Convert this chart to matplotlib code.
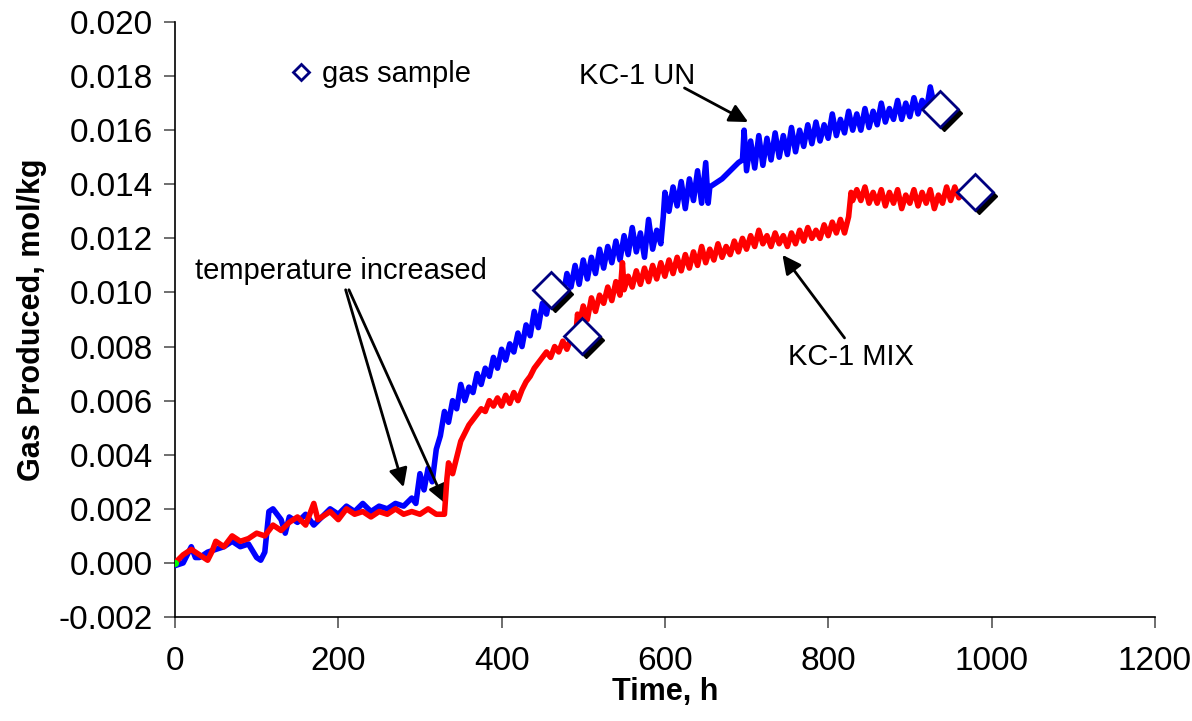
import numpy as np
import matplotlib
matplotlib.use("Agg")
import matplotlib.pyplot as plt
import matplotlib.transforms as mtransforms
from matplotlib.ticker import FormatStrFormatter, MultipleLocator
from matplotlib.lines import Line2D

plt.rcParams['font.family'] = ['Liberation Sans', 'DejaVu Sans']
plt.rcParams['axes.unicode_minus'] = False

# KC-1 UN (blue)
t_un = [0, 10, 20, 25, 30, 40, 50, 60, 70, 80, 90, 100, 105, 110, 115, 120, 130, 135, 140,
        150, 160, 170, 180, 190, 200, 210, 220, 230, 240, 250, 260, 270, 280, 290, 295,
        300, 305, 310, 315, 320, 325, 330, 335, 340, 345, 350, 355, 360, 365, 370, 375,
        380, 385, 390, 395, 400, 405, 410, 415, 420, 425, 430, 435, 440, 445, 450, 455,
        460, 465, 470, 475, 480, 485, 490, 495, 500, 505, 510, 515, 520, 525, 530, 535,
        540, 545, 550, 555, 560, 565, 570, 575, 580, 585, 590, 595, 598, 600, 605, 610,
        615, 620, 625, 630, 635, 640, 645, 650, 653, 655, 660, 670, 680, 690, 695, 697,
        700, 705, 710, 715, 720, 725, 730, 735, 740, 745, 750, 755, 760, 765, 770, 775,
        780, 785, 790, 795, 800, 805, 810, 815, 820, 825, 830, 835, 840, 845, 850, 855,
        860, 865, 870, 875, 880, 885, 890, 895, 900, 905, 910, 915, 920, 925, 930]
gas_un = [-0.0001, 0.0000, 0.0006, 0.0002, 0.0002, 0.0004, 0.0005, 0.0006, 0.0008, 0.0006,
          0.0007, 0.0002, 0.0001, 0.0004, 0.0019, 0.0020, 0.0016, 0.0011, 0.0017,
          0.0015, 0.0018, 0.0014, 0.0017, 0.0020, 0.0018, 0.0021, 0.0019, 0.0022, 0.0019,
          0.0021, 0.0020, 0.0022, 0.0021, 0.0024, 0.0022,
          0.0033, 0.0027, 0.0035, 0.0030, 0.0042, 0.0047, 0.0056, 0.0052, 0.0060, 0.0057,
          0.0066, 0.0060, 0.0065, 0.0063, 0.0070, 0.0066,
          0.0072, 0.0069, 0.0076, 0.0072, 0.0079, 0.0075, 0.0081, 0.0078, 0.0085, 0.0080,
          0.0088, 0.0084, 0.0093, 0.0087, 0.0096, 0.0092,
          0.0100, 0.0096, 0.0104, 0.0098, 0.0107, 0.0102, 0.0110, 0.0103, 0.0112, 0.0105,
          0.0113, 0.0107, 0.0116, 0.0109, 0.0117, 0.0111,
          0.0119, 0.0112, 0.0121, 0.0114, 0.0124, 0.0115, 0.0122, 0.0113, 0.0127, 0.0116,
          0.0123, 0.0118, 0.0128, 0.0137, 0.0130, 0.0139,
          0.0132, 0.0141, 0.0131, 0.0142, 0.0134, 0.0145, 0.0133, 0.0148, 0.0133, 0.0139,
          0.0140, 0.0142, 0.0145, 0.0148, 0.0149, 0.0160,
          0.0145, 0.0156, 0.0146, 0.0158, 0.0147, 0.0157, 0.0149, 0.0159, 0.0150, 0.0158,
          0.0151, 0.0161, 0.0152, 0.0160, 0.0154, 0.0162,
          0.0155, 0.0163, 0.0156, 0.0162, 0.0157, 0.0166, 0.0158, 0.0164, 0.0159, 0.0167,
          0.0160, 0.0166, 0.0160, 0.0168, 0.0161, 0.0167,
          0.0162, 0.0170, 0.0163, 0.0168, 0.0164, 0.0171, 0.0164, 0.0170, 0.0165, 0.0172,
          0.0166, 0.0171, 0.0167, 0.0176, 0.0169]

# KC-1 MIX (red)
t_mix = [0, 10, 20, 30, 40, 45, 50, 60, 70, 80, 90, 100, 110, 120, 130, 140, 150, 160, 170,
         175, 180, 190, 200, 210, 220, 230, 240, 250, 260, 270, 280, 290, 300, 310, 320,
         330, 333, 335, 340, 345, 350, 355, 360, 365, 370, 375, 380, 385, 390, 395, 400,
         405, 410, 415, 420, 425, 430, 435, 440, 445, 450, 455, 460, 465, 470, 475, 480,
         485, 490, 493, 495, 500, 505, 510, 515, 520, 525, 530, 535, 540, 545, 548, 550,
         555, 560, 565, 570, 575, 580, 585, 590, 595, 600, 605, 610, 615, 620, 625, 630,
         635, 640, 645, 650, 655, 660, 665, 670, 675, 680, 685, 690, 695, 700, 705, 710,
         715, 720, 725, 730, 735, 740, 745, 750, 755, 760, 765, 770, 775, 780, 785, 790,
         795, 800, 805, 810, 815, 820, 825, 828, 830, 835, 840, 845, 850, 855, 860, 865,
         870, 875, 880, 885, 890, 895, 900, 905, 910, 915, 920, 925, 930, 935, 940, 945,
         950, 955, 960, 965]
gas_mix = [0.0000, 0.0003, 0.0005, 0.0003, 0.0001, 0.0004, 0.0008, 0.0006, 0.0010, 0.0008,
           0.0009, 0.0011, 0.0010, 0.0014, 0.0012, 0.0015, 0.0017, 0.0014, 0.0022,
           0.0016, 0.0017, 0.0019, 0.0016, 0.0020, 0.0018, 0.0019, 0.0017, 0.0019, 0.0018,
           0.0020, 0.0018, 0.0019, 0.0018, 0.0020, 0.0018,
           0.0018, 0.0031, 0.0037, 0.0033, 0.0039, 0.0045, 0.0048, 0.0051, 0.0053, 0.0055,
           0.0057, 0.0056, 0.0060, 0.0058, 0.0061, 0.0058,
           0.0062, 0.0059, 0.0063, 0.0060, 0.0064, 0.0067, 0.0069, 0.0072, 0.0074, 0.0076,
           0.0078, 0.0076, 0.0080, 0.0078, 0.0082, 0.0079,
           0.0083, 0.0081, 0.0092, 0.0088, 0.0095, 0.0090, 0.0098, 0.0093, 0.0099, 0.0096,
           0.0102, 0.0097, 0.0104, 0.0099, 0.0111, 0.0101,
           0.0106, 0.0102, 0.0108, 0.0103, 0.0109, 0.0104, 0.0110, 0.0105, 0.0111, 0.0106,
           0.0112, 0.0107, 0.0113, 0.0108, 0.0114, 0.0109,
           0.0115, 0.0110, 0.0117, 0.0111, 0.0116, 0.0112, 0.0118, 0.0113, 0.0117, 0.0114,
           0.0119, 0.0115, 0.0120, 0.0116, 0.0121, 0.0117,
           0.0123, 0.0118, 0.0121, 0.0117, 0.0122, 0.0118, 0.0121, 0.0117, 0.0122, 0.0118,
           0.0123, 0.0119, 0.0124, 0.0120, 0.0123, 0.0120,
           0.0125, 0.0121, 0.0126, 0.0122, 0.0127, 0.0122, 0.0128, 0.0137, 0.0134, 0.0138,
           0.0134, 0.0139, 0.0133, 0.0137, 0.0133, 0.0138,
           0.0132, 0.0137, 0.0133, 0.0138, 0.0131, 0.0136, 0.0133, 0.0138, 0.0132, 0.0137,
           0.0133, 0.0138, 0.0131, 0.0136, 0.0133, 0.0139,
           0.0134, 0.0139, 0.0135, 0.0137]

# gas sampling points
t_sample = [460, 937, 498, 980]
gas_sample = [0.0101, 0.0168, 0.0084, 0.0137]

fig = plt.figure(figsize=(11.92, 7.21), dpi=100)
ax = fig.add_axes([0.1468, 0.1442, 0.822, 0.8253])

ax.plot(t_un, gas_un, color='#0000ff', lw=4, solid_joinstyle='round', zorder=3)
ax.plot(t_mix, gas_mix, color='#ff0000', lw=4, solid_joinstyle='round', zorder=4)
ax.plot([0], [0], 'o', color='#00ff00', ms=4, zorder=5)

# sample markers with a drop shadow
shadow = mtransforms.offset_copy(ax.transData, fig=fig, x=4, y=-4, units='dots')
ax.plot(t_sample, gas_sample, 'D', ms=18, color='black', transform=shadow, zorder=6)
ax.plot(t_sample, gas_sample, 'D', ms=18, mfc='white', mec='#000080', mew=2, zorder=7)

ax.set_xlim(0, 1200)
ax.set_ylim(-0.002, 0.020)
ax.xaxis.set_major_locator(MultipleLocator(200))
ax.yaxis.set_major_locator(MultipleLocator(0.002))
ax.yaxis.set_major_formatter(FormatStrFormatter('%.3f'))

for s in ['top', 'right']:
    ax.spines[s].set_visible(False)
for s in ['left', 'bottom']:
    ax.spines[s].set_linewidth(1.2)
    ax.spines[s].set_color('black')
ax.tick_params(direction='out', length=8, width=1.2, color='#555555',
               labelsize=24, pad=8)
ax.tick_params(axis='x', pad=13)

ax.set_xlabel('Time, h', fontsize=22, fontweight='bold', labelpad=0)
ax.set_ylabel('Gas Produced, mol/kg', fontsize=22, fontweight='bold', labelpad=8)

handle = Line2D([], [], marker='D', ls='none', mfc='white', mec='#000080', mew=2, ms=8)
ax.legend([handle], ['gas sample'], loc='upper left', bbox_to_anchor=(0.09, 0.98),
          frameon=False, fontsize=21, handlelength=0.8, handletextpad=0.3)

arrow = dict(arrowstyle='-|>', color='black', lw=2, mutation_scale=28,
             shrinkA=0, shrinkB=0)
ax.text(566, 0.0180, 'KC-1 UN', fontsize=21, ha='center', va='center')
ax.annotate('', xy=(702, 0.0163), xytext=(624, 0.01756), arrowprops=arrow)

ax.text(828, 0.0076, 'KC-1 MIX', fontsize=21, ha='center', va='center')
ax.annotate('', xy=(744, 0.01139), xytext=(820, 0.00832), arrowprops=arrow)

ax.text(203, 0.0108, 'temperature increased', fontsize=21, ha='center', va='center')
ax.annotate('', xy=(280, 0.0028), xytext=(209, 0.0101), arrowprops=arrow)
ax.annotate('', xy=(331, 0.0022), xytext=(213, 0.0101), arrowprops=arrow)

fig.savefig('out.png', dpi=100)
